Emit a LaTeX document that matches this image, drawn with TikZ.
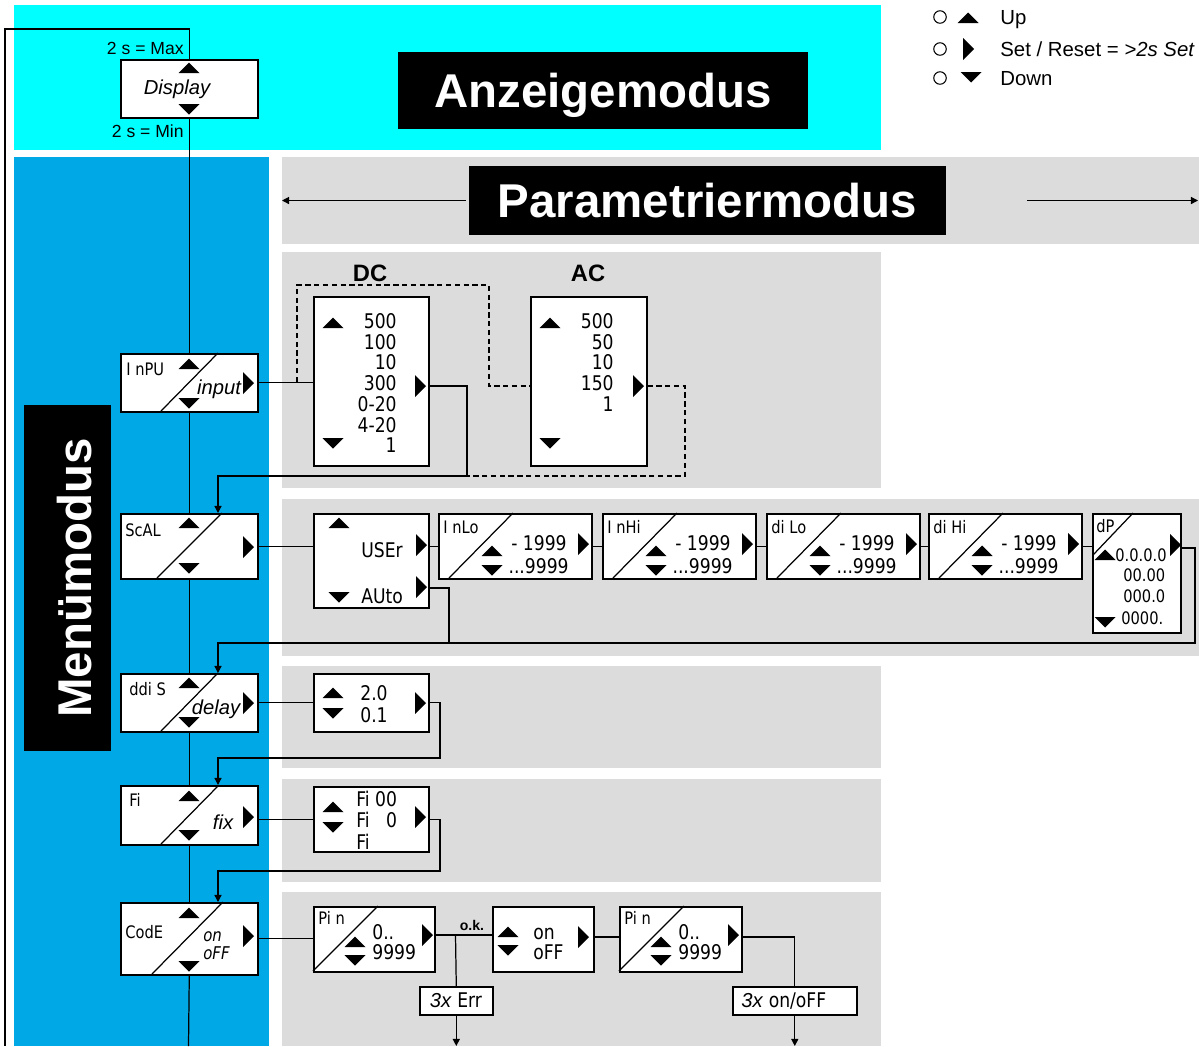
\documentclass[tikz,border=0pt]{standalone}
\usepackage{fontspec}
\setmainfont{Liberation Sans}
\newfontfamily\segfont[FakeStretch=0.85]{DejaVu Sans}
\usetikzlibrary{arrows.meta}
\definecolor{anzcyan}{RGB}{0,255,255}
\definecolor{menublue}{RGB}{0,168,230}
\definecolor{paragray}{RGB}{220,220,220}
% key triangles of the front panel
\tikzset{
  uptri/.pic={\fill (-10.5,5) -- (10.5,5) -- (0,-5.5) -- cycle;},
  dntri/.pic={\fill (-10.5,-5) -- (10.5,-5) -- (0,5.5) -- cycle;},
  rttri/.pic={\fill (-5,-11) -- (-5,11) -- (6,0) -- cycle;}
}
\begin{document}
\begin{tikzpicture}[
x=0.02cm, y=-0.02cm,
box/.style={draw, fill=white, line width=0.9pt, anchor=north west, inner sep=0pt},
title/.style={fill=black, text=white, inner sep=0pt, text height=19.4pt, text depth=0pt,
  font=\bfseries\fontsize{27}{30}\selectfont},
seg/.style={inner sep=0pt, text height=7.1pt, text depth=0pt, font=\segfont\fontsize{9.8}{11}\selectfont},
num/.style={inner sep=0pt, text height=8.4pt, text depth=0pt, font=\segfont\fontsize{11.5}{13}\selectfont},
lbl/.style={inner sep=0pt, font=\itshape\fontsize{11.5}{13}\selectfont},
txt/.style={inner sep=0pt, text height=7.2pt, text depth=0pt, font=\fontsize{10}{12}\selectfont},
link/.style={line width=0.7pt},
feed/.style={link, -{Triangle[length=4pt, width=4pt]}}
]
\useasboundingbox (0,0) rectangle (1199,1046);
% mode areas
\fill[anzcyan] (14,5) rectangle (881,150);
\fill[menublue] (14,157) rectangle (269,1046);
\fill[paragray] (282,157) rectangle (1199,244);
\fill[paragray] (282,252) rectangle (881,488);
\fill[paragray] (282,499) rectangle (1199,656);
\fill[paragray] (282,666) rectangle (881,768);
\fill[paragray] (282,779) rectangle (881,882);
\fill[paragray] (282,892) rectangle (881,1046);

\node[title, minimum width=8.2cm, minimum height=1.54cm] (anz) at (603,90.5) {Anzeigemodus};
\node[title, minimum width=9.54cm, minimum height=1.38cm] (parm) at (707.5,200.5) {Parametriermodus};
\node[title, rotate=90, text height=27pt, minimum width=6.92cm, minimum height=1.74cm] (menu) at (67.5,578) {Menümodus};
\coordinate (parmL) at (282,200.5);
\coordinate (parmR0) at (1027,200.5);
\coordinate (parmR) at (1198,200.5);
\draw[feed] ([xshift=-0.06cm]parm.west) -- (parmL);
\draw[feed] (parmR0) -- (parmR);

% key legend
\foreach \k/\y/\lab in {up/17/Up, set/49/{Set / Reset = \textit{>2s Set}}, dn/78/Down} {
  \node[draw, circle, line width=0.6pt, minimum size=0.25cm, inner sep=0pt] (c\k) at (940,\y) {};
  \node[txt, text height=8.2pt, font=\fontsize{11.6}{13}\selectfont, anchor=west] (t\k) at (1000,\y) {\lab};
}
\pic at (968,18) {uptri};
\pic at (968,49) {rttri};
\pic at (971,77) {dntri};

% display mode
\node[box, minimum width=2.74cm, minimum height=1.16cm] (disp) at (120,59) {};
\node[lbl] (displbl) at (177,89) {Display};
\pic at (189,68) {uptri};
\pic at (189,109) {dntri};
\node[txt, anchor=east] (dmax) at (184,48) {2 s = Max};
\node[txt, anchor=east] (dmin) at (184,131) {2 s = Min};
\coordinate (loopTL) at (5,29);
\coordinate (loopB) at (5,1046);
\draw[link] (disp.north) |- (loopTL) -- (loopB);

% menu column
\node[box, minimum width=2.74cm, minimum height=1.16cm] (inpu) at (120,353) {};
\node[box, minimum width=2.74cm, minimum height=1.30cm] (scal) at (120,513) {};
\node[box, minimum width=2.74cm, minimum height=1.16cm] (ddis) at (120,673) {};
\node[box, minimum width=2.74cm, minimum height=1.18cm] (fi) at (120,785) {};
\node[box, minimum width=2.74cm, minimum height=1.44cm] (code) at (120,902) {};
\coordinate (mainB) at (188.5,1046);
\draw[link] (disp.south) -- (inpu.north);
\draw[link] (inpu.south) -- (scal.north);
\draw[link] (scal.south) -- (ddis.north);
\draw[link] (ddis.south) -- (fi.north);
\draw[link] (fi.south) -- (code.north);
\draw[link] (code.south) -- (mainB);

\draw[link] (161,411) -- (218,353);
\node[seg, anchor=west] (inpul) at (126,369) {I nPU};
\node[lbl] (inpui) at (219,389) {input};
\pic at (189,364) {uptri}; \pic at (189,403) {dntri}; \pic at (248,383) {rttri};

\draw[link] (157,578) -- (222,513);
\node[seg, anchor=west] (scall) at (125,530) {ScAL};
\pic at (189,523) {uptri}; \pic at (189,568) {dntri}; \pic at (248,547) {rttri};

\draw[link] (161,731) -- (218,673);
\node[seg, anchor=west] (ddisl) at (129,689) {ddi S};
\node[lbl] (ddisd) at (216,709) {delay};
\pic at (189,683) {uptri}; \pic at (189,722) {dntri}; \pic at (248,703) {rttri};

\draw[link] (161,844) -- (218,786);
\node[seg, anchor=west] (fil) at (129,800) {Fi};
\node[lbl] (fif) at (223,822) {fix};
\pic at (189,796) {uptri}; \pic at (189,835) {dntri}; \pic at (248,817) {rttri};

\draw[link] (152,974) -- (223,902);
\node[seg, anchor=west] (codel) at (125,932) {CodE};
\node[seg, font=\segfont\itshape\fontsize{10}{11}\selectfont, anchor=west] (codeon) at (203,935) {on};
\node[seg, font=\segfont\itshape\fontsize{10}{11}\selectfont, anchor=west] (codeoff) at (203,953) {oFF};
\pic at (189,913) {uptri}; \pic at (189,966) {dntri}; \pic at (248,936) {rttri};

% input range
\node[box, minimum width=2.30cm, minimum height=3.38cm] (dc) at (313,296) {};
\node[box, minimum width=2.32cm, minimum height=3.38cm] (ac) at (530,296) {};
\node[font=\bfseries\fontsize{13.5}{15}\selectfont, inner sep=0pt] (dclbl) at (370,273) {DC};
\node[font=\bfseries\fontsize{13.5}{15}\selectfont, inner sep=0pt] (aclbl) at (588,273) {AC};
\foreach \v [count=\i] in {500,100,10,300,0-20,4-20,1}
  \node[num, anchor=east] (dc\i) at (397,{300.5+20.7*\i}) {\v};
\foreach \v [count=\i] in {500,50,10,150,1}
  \node[num, anchor=east] (ac\i) at (614,{300.5+20.7*\i}) {\v};
\pic at (333,323) {uptri}; \pic at (333,443) {dntri}; \pic at (420,386) {rttri};
\pic at (550,323) {uptri}; \pic at (550,443) {dntri}; \pic at (638,386) {rttri};
\draw[link] (inpu.east) -- (inpu.east -| dc.west);
\draw[link, densely dashed] (297,382) |- (489,285) |- (ac.west |- 0,386);
\draw[feed] (dc.east |- 0,386) -| (467,476) -| (scal.north -| 218,0);
\draw[link, densely dashed] (ac.east |- 0,386) -| (685,476) -- (467,476);

% scaling
\node[box, minimum width=2.30cm, minimum height=1.88cm] (user) at (313,513) {};
\node[num, anchor=west] (userl) at (361,550) {USEr};
\node[num, anchor=west] (autol) at (361,596) {AUto};
\pic at (339,523) {uptri}; \pic at (339,597) {dntri};
\pic at (421,545) {rttri}; \pic at (421,587) {rttri};
\foreach \nm/\lab/\xl in {inlo/I nLo/438, inhi/I nHi/602, dilo/di Lo/766, dihi/di Hi/928} {
  \node[box, minimum width=3.06cm, minimum height=1.30cm] (\nm) at (\xl,513) {};
  \draw[link] ({\xl+11},578) -- ({\xl+75},513);
  \node[seg, anchor=west] (\nm-l) at ({\xl+5},527) {\lab};
  \node[num, anchor=east] (\nm-a) at ({\xl+129},543) {- 1999};
  \node[num, anchor=east] (\nm-b) at ({\xl+131},566) {...9999};
  \pic at ({\xl+54},551) {uptri};
  \pic at ({\xl+54},570) {dntri};
  \pic at ({\xl+145},544) {rttri};
}
\node[box, minimum width=1.76cm, minimum height=2.38cm] (dp) at (1092,513) {};
\draw[link] (1093,555) -- (1133,513);
\node[seg, anchor=west] (dpl) at (1096,526) {dP};
\pic at (1105,555) {uptri};
\pic at (1105,622) {dntri};
\node[seg, anchor=west] (dp1) at (1115,555) {0.0.0.0};
\node[seg, anchor=west] (dp2) at (1123,575) {00.00};
\node[seg, anchor=west] (dp3) at (1123,596) {000.0};
\node[seg, anchor=west] (dp4) at (1121,618) {0000.};
\pic at (1175,545) {rttri};
\draw[link] (scal.east) -- (scal.east -| user.west);
\draw[link] (inlo.west -| user.east) -- (inlo.west);
\draw[link] (inlo.east) -- (inhi.west);
\draw[link] (inhi.east) -- (dilo.west);
\draw[link] (dilo.east) -- (dihi.west);
\draw[link] (dihi.east) -- (dihi.east -| dp.west);
\draw[link] (user.east |- 0,588) -| (449,643);
\draw[feed] (dp.east |- 0,548) -| (1195,643) -| (ddis.north -| 218,0);

% display delay
\node[box, minimum width=2.30cm, minimum height=1.16cm] (dly) at (313,673) {};
\pic at (333,693) {uptri}; \pic at (333,713) {dntri}; \pic at (420,703) {rttri};
\node[num, anchor=west] (dly1) at (360,693) {2.0};
\node[num, anchor=west] (dly2) at (360,715) {0.1};
\draw[link] (ddis.east) -- (dly.west);
\draw[feed] (dly.east) -| (440,758) -| (fi.north -| 218,0);

% fixed value
\node[box, minimum width=2.30cm, minimum height=1.30cm] (fix) at (313,786) {};
\pic at (333,807) {uptri}; \pic at (333,827) {dntri}; \pic at (420,817) {rttri};
\node[num, anchor=west] (fix1) at (356,799) {Fi 00};
\node[num, anchor=west] (fix2) at (356,820) {Fi \phantom{0}0};
\node[num, anchor=west] (fix3) at (356,842) {Fi};
\draw[link] (fix.west -| fi.east) -- (fix.west);
\draw[feed] (fix.east) -| (440,871) -| (code.north -| 218,0);

% code lock
\node[box, minimum width=2.42cm, minimum height=1.30cm] (pin1) at (313,906) {};
\node[box, minimum width=2.02cm, minimum height=1.30cm] (onoff) at (492,906) {};
\node[box, minimum width=2.44cm, minimum height=1.30cm] (pin2) at (619,906) {};
\node[box, minimum width=1.46cm, minimum height=0.56cm] (err1) at (419,986) {};
\node[box, minimum width=2.48cm, minimum height=0.56cm] (err2) at (732,986) {};
\foreach \nm/\xl in {pin1/313, pin2/619} {
  \draw[link] (\xl,971) -- ({\xl+65},906);
  \node[seg, anchor=west] (\nm-l) at ({\xl+5},918) {Pi n};
  \pic at ({\xl+42},942) {uptri};
  \pic at ({\xl+42},960) {dntri};
  \node[num, anchor=west] (\nm-a) at ({\xl+59},932) {0..};
  \node[num, anchor=west] (\nm-b) at ({\xl+59},952) {9999};
  \pic at ({\xl+114},935) {rttri};
}
\pic at (508,932) {uptri}; \pic at (508,950) {dntri}; \pic at (583,937) {rttri};
\node[num, anchor=west] (onl) at (533,932) {on};
\node[num, anchor=west] (offl) at (533,952) {oFF};
\node[num] (err1t) at (456,1000) {\textit{\rmfamily 3x} Err};
\node[num, anchor=west] (err2t) at (741,1000) {\textit{\rmfamily 3x} on/oFF};
\node[inner sep=0pt, font=\bfseries\fontsize{8}{9}\selectfont] (ok) at (472,925) {o.k.};
\coordinate (errsplit) at (455.5,935);
\draw[link] (code.east) -- (code.east -| pin1.west);
\draw[link] (pin1.east |- 0,935) -- (onoff.west |- 0,935);
\draw[link] (errsplit) -- (err1.north);
\draw[feed] (err1.south) -- (err1.south |- 0,1046);
\draw[link] (onoff.east |- 0,937) -- (pin2.west |- 0,937);
\draw[link] (pin2.east |- 0,937) -| (err2.north);
\draw[feed] (err2.south) -- (err2.south |- 0,1046);
\end{tikzpicture}
\end{document}
